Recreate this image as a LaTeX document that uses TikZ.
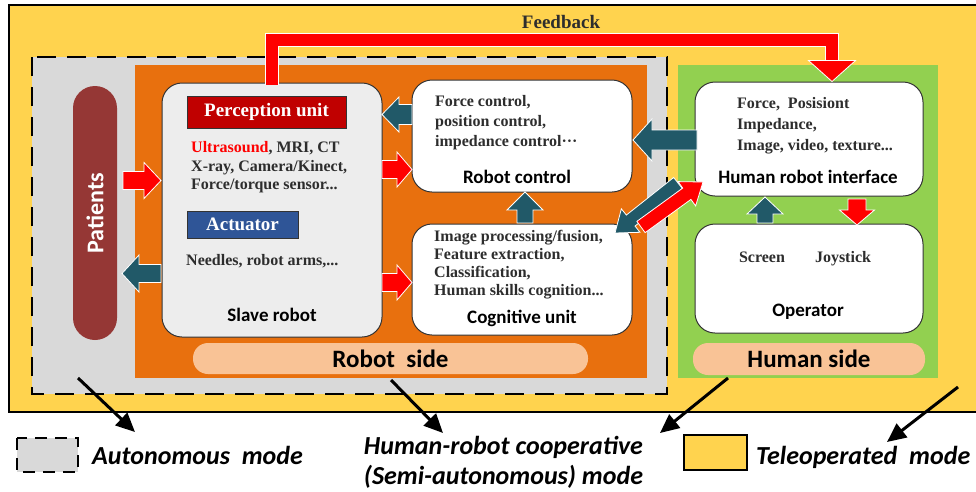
\documentclass[tikz,border=0pt]{standalone}
\usepackage{fontspec}
\setmainfont{Liberation Serif}
\newfontfamily\calfont{Carlito}
\usetikzlibrary{calc,arrows.meta}

\definecolor{bgyellow}{RGB}{255,211,78}
\definecolor{grayreg}{RGB}{217,217,217}
\definecolor{orangereg}{RGB}{232,112,14}
\definecolor{greenreg}{RGB}{146,208,80}
\definecolor{patred}{RGB}{149,55,53}
\definecolor{peach}{RGB}{249,195,150}
\definecolor{percred}{RGB}{192,0,0}
\definecolor{actblue}{RGB}{47,85,151}
\definecolor{tealarr}{RGB}{33,89,104}
\definecolor{slavegray}{RGB}{237,237,237}
\definecolor{txtgray}{RGB}{45,45,45}

\newcommand\blockarrow[6]{%
  \path[fill=#6, draw=white, line width=0.8pt, line join=miter]
    let \p1=($(#2)-(#1)$), \n1={atan2(\y1,\x1)}, \n2={veclen(\x1,\y1)} in
    [shift={(#1)}, rotate=\n1]
    (0pt,{-0.5*#3pt}) -- ({(\n2-#5)*1pt},{-0.5*#3pt}) -- ({(\n2-#5)*1pt},{-0.5*#4pt})
    -- ({\n2*1pt},0pt) -- ({(\n2-#5)*1pt},{0.5*#4pt}) -- ({(\n2-#5)*1pt},{0.5*#3pt})
    -- (0pt,{0.5*#3pt}) -- cycle;}

\begin{document}
\begin{tikzpicture}[x=1pt,y=-1pt,
  box/.style={draw=black!80, line width=1pt, rounded corners=20pt, fill=white, inner sep=0pt},
  ttl/.style={font=\calfont\bfseries\fontsize{19}{22}\selectfont, text=black, inner sep=0pt},
  body/.style={font=\bfseries\fontsize{16}{18.5}\selectfont, text=txtgray, align=left, inner sep=0pt, anchor=north west},
  tag/.style={draw=black!80, line width=0.8pt, text=white, font=\bfseries\fontsize{19}{22}\selectfont, inner sep=0pt},
  pill/.style={fill=peach, rounded corners=15pt, inner sep=0pt, font=\calfont\bfseries\fontsize{25}{28}\selectfont, text=black},
  legend/.style={font=\calfont\bfseries\itshape\fontsize{26}{30}\selectfont, inner sep=0pt, text=black},
  modearrow/.style={line width=3pt, -{Triangle[length=19pt,width=17pt]}}]

\useasboundingbox (0,0) rectangle (976,491);

% regions
\draw[line width=2pt, fill=bgyellow] (9,5) rectangle (978,412);
\draw[line width=2.5pt, dash pattern=on 19pt off 11pt, fill=grayreg] (32,57) rectangle (667,394);
\fill[orangereg] (135,65) rectangle (647,378);
\fill[greenreg] (678,65) rectangle (938,378);

% patients
\node[fill=patred, rounded corners=22pt, rotate=90, minimum width=254pt, minimum height=44pt,
      inner sep=0pt, text=white, font=\calfont\bfseries\fontsize{24}{26}\selectfont] (patients) at (95,213) {Patients};

% main boxes
\node[box, fill=slavegray, minimum width=220pt, minimum height=254pt] (slave) at (272,210) {};
\node[box, minimum width=220pt, minimum height=112pt] (rc) at (522,136) {};
\node[box, minimum width=220pt, minimum height=111pt] (cog) at (522,279.5) {};
\node[box, minimum width=228pt, minimum height=114pt] (hri) at (809,139) {};
\node[box, minimum width=228pt, minimum height=109pt] (op) at (809,278.5) {};

% slave robot contents
\node[tag, fill=percred, minimum width=159pt, minimum height=32pt] (perc) at (266.5,112) {Perception unit};
\node[body] (senstxt) at (191,141.5) {{\color{red}Ultrasound}, MRI, CT\\X-ray, Camera/Kinect,\\Force/torque sensor...};
\node[tag, fill=actblue, minimum width=111pt, minimum height=27pt] (act) at (242.5,224.5) {Actuator};
\node[body, anchor=base west] (needles) at (186,265) {Needles, robot arms,...};
\node[ttl] (slavettl) at (272,315) {Slave robot};

% robot control
\node[body, font=\bfseries\fontsize{16}{20}\selectfont] (rctxt) at (435,95.5) {Force control,\\position control,\\impedance control···};
\node[ttl] (rcttl) at (517,177) {Robot control};

% cognitive unit
\node[body, font=\bfseries\fontsize{16}{17.7}\selectfont] (cogtxt) at (434,230.5) {Image processing/fusion,\\Feature extraction,\\Classification,\\Human skills cognition...};
\node[ttl] (cogttl) at (522,318) {Cognitive unit};

% human robot interface
\node[body, font=\bfseries\fontsize{16}{21}\selectfont] (hritxt) at (737,97.5) {Force,\ \ Posisiont\\Impedance,\\Image, video, texture...};
\node[ttl] (hrittl) at (808,177) {Human robot interface};

% operator
\node[body, anchor=base] (screen) at (762,262) {Screen};
\node[body, anchor=base] (joy) at (843,262) {Joystick};
\node[ttl] (opttl) at (808,312) {Operator};

% side pills
\node[pill, minimum width=395pt, minimum height=31pt] (rside) at (390.5,358.5) {Robot\ \ side};
\node[pill, minimum width=232pt, minimum height=32pt] (hside) at (809,359) {Human side};

% block arrows
\coordinate (a1t) at (123,180.5); \coordinate (a1h) at (161,180.5);
\blockarrow{a1t}{a1h}{18}{36}{17}{red}
\coordinate (a2t) at (161,273.5); \coordinate (a2h) at (122,273.5);
\blockarrow{a2t}{a2h}{18}{37}{17}{tealarr}
\coordinate (a3t) at (412,114.5); \coordinate (a3h) at (382,114.5);
\blockarrow{a3t}{a3h}{20}{35}{17}{tealarr}
\coordinate (a4t) at (382,169.5); \coordinate (a4h) at (412,169.5);
\blockarrow{a4t}{a4h}{18}{35}{15}{red}
\coordinate (a5t) at (382,282.5); \coordinate (a5h) at (412,282.5);
\blockarrow{a5t}{a5h}{18}{35}{15}{red}
\coordinate (a6t) at (525,223); \coordinate (a6h) at (525,192);
\blockarrow{a6t}{a6h}{16}{36}{18}{tealarr}
\coordinate (a7t) at (697,140); \coordinate (a7h) at (633,140);
\blockarrow{a7t}{a7h}{20}{42}{19}{tealarr}
\coordinate (a8t) at (678,183); \coordinate (a8h) at (615,233);
\blockarrow{a8t}{a8h}{14}{30}{20}{tealarr}
\coordinate (a9t) at (641,227); \coordinate (a9h) at (703,182);
\blockarrow{a9t}{a9h}{14}{30}{20}{red}
\coordinate (a10t) at (765,223); \coordinate (a10h) at (765,197);
\blockarrow{a10t}{a10h}{16}{36}{17}{tealarr}
\coordinate (a11t) at (857,199); \coordinate (a11h) at (857,225);
\blockarrow{a11t}{a11h}{18}{35}{15}{red}

% feedback arrow
\coordinate (fbtip) at ([xshift=23pt]hri.north);
\coordinate (fbL) at (272,39.5);
\coordinate (fbR) at (fbtip |- fbL);
\coordinate (fbH) at ($(fbtip)+(0,-21)$);
\draw[white, line width=14pt, line join=miter] ([yshift=-2pt]slave.north) -- (fbL) -- (fbR) -- (fbH);
\draw[red, line width=12pt, line join=miter] ([yshift=-2pt]slave.north) -- (fbL) -- (fbR) -- (fbH);
\path[fill=red, draw=white, line width=0.8pt] ($(fbH)+(-23.5,0)$) -- ($(fbH)+(23.5,0)$) -- (fbtip) -- cycle;
\node[font=\bfseries\fontsize{19}{22}\selectfont, text=txtgray, inner sep=0pt] (fbtxt) at (561,22) {Feedback};

% legend
\draw[line width=2.5pt, dash pattern=on 12pt off 8pt, fill=grayreg] (17,438) rectangle (78,472);
\node[legend, anchor=west] (autotxt) at (92,455) {Autonomous\ \ mode};
\node[legend, align=center] (coop) at (503.5,462) {Human-robot cooperative\\(Semi-autonomous) mode};
\draw[line width=2pt, fill=bgyellow] (684,435) rectangle (747,470);
\node[legend, anchor=west] (teletxt) at (756,457) {Teleoperated\ \ mode};

% mode arrows
\coordinate (m1s) at (78,378); \coordinate (m1e) at (135,432);
\coordinate (m2s) at (391,380); \coordinate (m2e) at (443,433);
\coordinate (m3s) at (728,378); \coordinate (m3e) at (660,433);
\coordinate (m4s) at (958,387); \coordinate (m4e) at (887,442);
\draw[modearrow] (m1s) -- (m1e);
\draw[modearrow] (m2s) -- (m2e);
\draw[modearrow] (m3s) -- (m3e);
\draw[modearrow] (m4s) -- (m4e);
\end{tikzpicture}
\end{document}
